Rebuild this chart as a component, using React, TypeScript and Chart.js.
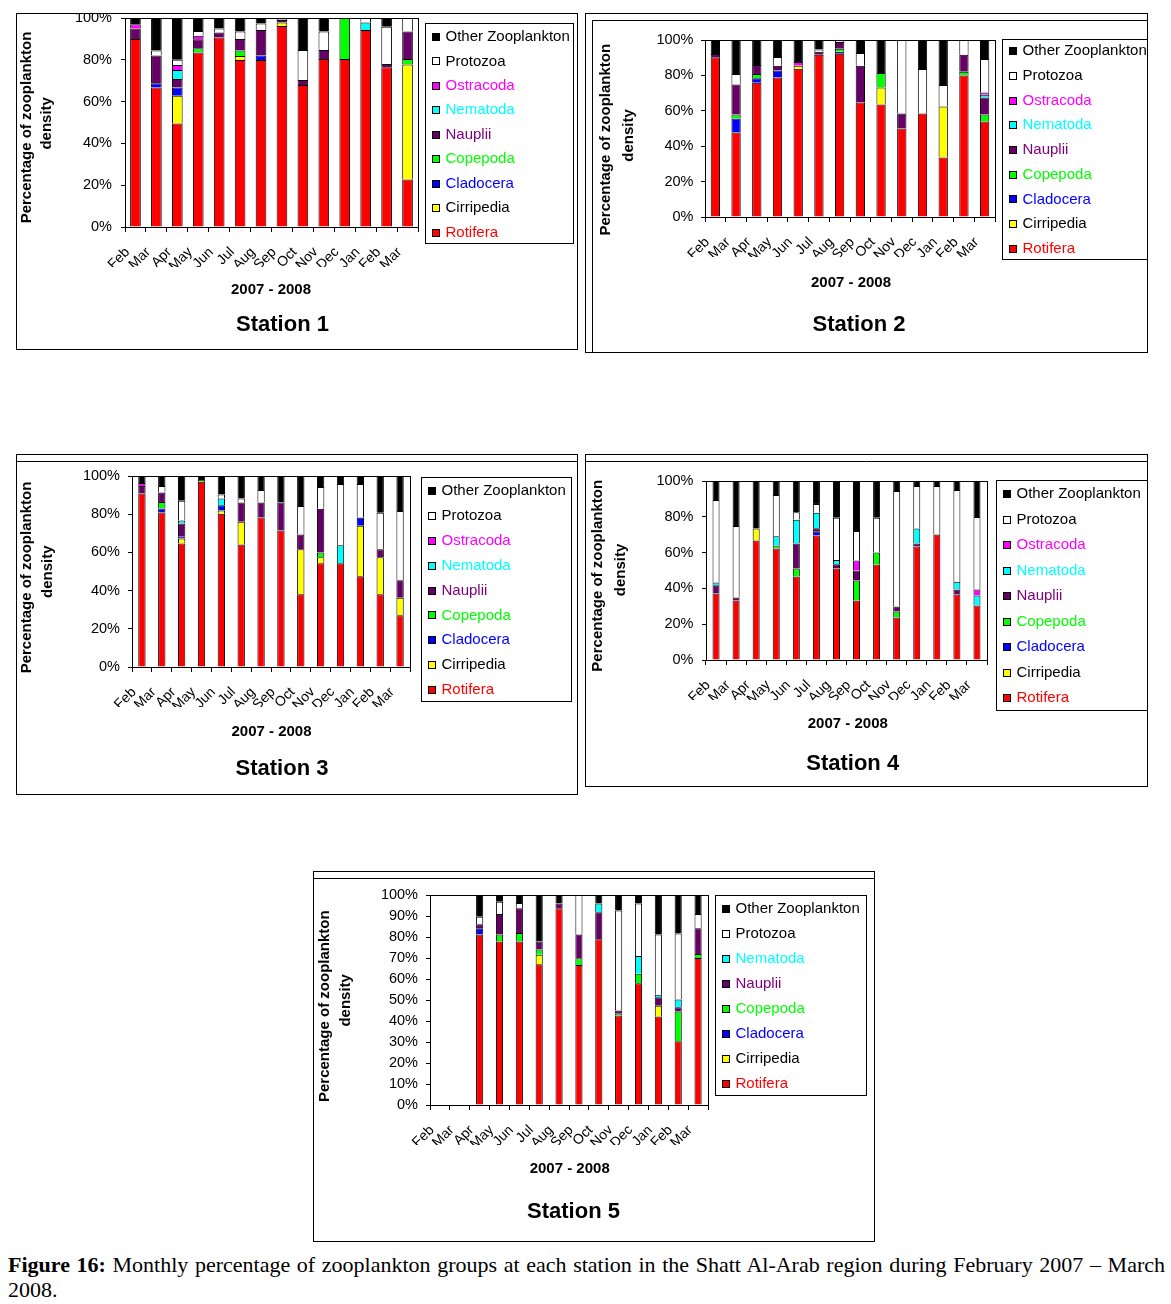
import { useEffect, useRef } from "react";
import { Chart, registerables } from "chart.js";
Chart.register(...registerables);

const months = ["Feb", "Mar", "Apr", "May", "Jun", "Jul", "Aug", "Sep", "Oct", "Nov", "Dec", "Jan", "Feb", "Mar"];
const yTicks20 = [0, 20, 40, 60, 80, 100];
const yTicks10 = [0, 10, 20, 30, 40, 50, 60, 70, 80, 90, 100];

// ---------- Station 1 (%)
const s1Rotifera = [90, 66.8, 49.5, 83.5, 90.7, 79.9, 79.9, 96.2, 67.9, 80.4, 80.4, 94.2, 76.4, 22.7];
const s1Cirripedia = [0, 0, 13.3, 0, 0, 1.9, 0, 1.7, 0, 0, 0, 0, 0, 55.1];
const s1Cladocera = [0, 2, 4, 0, 0, 0, 2.2, 0, 0, 0, 0, 0, 0, 0];
const s1Copepoda = [0, 0, 0, 2, 0, 2.7, 0, 0, 0, 0, 19.6, 0, 0, 2.6];
const s1Nauplii = [5, 13.3, 4, 4.3, 2.4, 5.4, 12.1, 1.1, 2.4, 4.3, 0, 0, 1.6, 13.2];
const s1Nematoda = [0, 0, 4.3, 0, 0, 0, 0, 0, 0, 0, 0, 3.7, 0, 0];
const s1Ostracoda = [2, 0, 2.4, 1.7, 0, 0, 0, 0, 0, 0, 0, 0, 0, 0];
const s1Protozoa = [0, 2.3, 2.5, 2.3, 1.9, 3.6, 3.2, 0.5, 14.4, 8.8, 0, 2.1, 17.8, 6.4];
const s1Other = [3, 15.6, 20, 6.2, 5, 6.5, 2.6, 0.5, 15.3, 6.5, 0, 0, 4.2, 0];

// ---------- Station 2 (%)
const s2Rotifera = [90.2, 47.7, 75.9, 78.8, 83.8, 91.7, 92.3, 64.7, 63.5, 50, 58.5, 33.6, 79.9, 53.9];
const s2Cirripedia = [0, 0, 0, 0, 1.7, 0, 0, 0, 9.6, 0, 0, 28.8, 0, 0];
const s2Cladocera = [0, 7.9, 2.5, 3.9, 0, 0, 1.1, 0, 0, 0, 0, 0, 0, 0];
const s2Copepoda = [0, 2.3, 2.4, 0, 0, 0, 1.7, 0, 8.3, 0, 0, 0, 2.2, 4];
const s2Nauplii = [1.9, 16.9, 5.1, 2.8, 0, 1.7, 3.8, 20.8, 0, 8.5, 0, 0, 9.6, 9.6];
const s2Nematoda = [0, 0, 0, 0, 0, 0, 0, 0, 0, 0, 0, 0, 0, 1.5];
const s2Ostracoda = [0, 0, 0, 0, 2.1, 0, 0, 0, 0, 0, 0, 0, 0, 1.3];
const s2Protozoa = [0, 6, 0, 4.9, 0, 1.3, 0.9, 7.2, 0, 41.5, 25.1, 12.2, 8.3, 19];
const s2Other = [7.9, 19.2, 14.1, 9.6, 12.4, 5.3, 0.2, 7.3, 18.6, 0, 16.4, 25.4, 0, 10.7];

// ---------- Station 3 (%)
const s3Rotifera = [90.8, 80.9, 64.7, 97, 80.3, 64.2, 78.3, 71.5, 38.1, 54.3, 54.3, 47.5, 38.1, 27.1];
const s3Cirripedia = [0, 0, 2.6, 0, 1.6, 11.8, 0, 0, 23.5, 3.1, 0, 26.4, 19.3, 9.2];
const s3Cladocera = [0, 2.1, 0.9, 0, 2.8, 0, 0, 0, 0, 0, 0, 4.4, 0, 0];
const s3Copepoda = [0, 3.4, 0, 0.9, 0, 0, 0, 0, 0, 2.6, 0, 0, 0, 0];
const s3Nauplii = [4, 4.9, 6.9, 0, 0, 10.1, 7.8, 14.6, 7.8, 22.8, 0, 0, 4.2, 9.1];
const s3Nematoda = [0, 0, 1.6, 0, 3.5, 0, 0, 0, 0, 0, 9.4, 0, 0, 0];
const s3Ostracoda = [1.5, 0, 0, 0, 0, 0, 0, 0, 0, 0, 0, 0, 0, 0];
const s3Protozoa = [0, 3.5, 10.3, 0, 2.1, 2.1, 6.6, 0, 14.9, 11.5, 32.1, 17.5, 19.1, 36.3];
const s3Other = [3.7, 5.2, 13, 2.1, 9.7, 11.8, 7.3, 13.9, 15.7, 5.7, 4.2, 4.2, 19.3, 18.3];

// ---------- Station 4 (%)
const s4Rotifera = [37.2, 33.3, 66.7, 62.3, 46.7, 69.5, 51.1, 33.3, 53.3, 23.8, 63.4, 70.1, 36.6, 30.5];
const s4Cirripedia = [0, 0, 6.7, 0, 0, 0, 0, 0, 0, 0, 0, 0, 0, 0];
const s4Cladocera = [0, 0, 0, 0, 0, 2.4, 0, 0, 0, 0, 0, 0, 0, 0];
const s4Copepoda = [0, 0, 0, 1.6, 4.4, 0, 0, 11.1, 6.7, 3.3, 0, 0, 0, 0];
const s4Nauplii = [4.6, 1.6, 0, 0, 14, 1.7, 2.4, 5.6, 0, 2.8, 1.7, 0, 2.8, 0];
const s4Nematoda = [1.5, 0, 0, 5.2, 13.3, 8.7, 2.3, 0, 0, 0, 8.3, 0, 4.3, 5.6];
const s4Ostracoda = [0, 0, 0, 0, 0, 0, 0, 5.6, 0, 0, 0, 0, 0, 3.3];
const s4Protozoa = [46.1, 40, 0, 23.1, 4.1, 4.9, 23.6, 16.5, 19.4, 64.5, 23.8, 27.1, 51.3, 40.5];
const s4Other = [10.6, 25.1, 26.6, 7.8, 17.5, 12.8, 20.6, 27.9, 20.6, 5.6, 2.8, 2.8, 5, 20.1];

// ---------- Station 5 (%) - no samples in Feb and Mar 2007
const s5Rotifera = [null, null, 81.2, 77.9, 77.9, 67, 93.7, 66.7, 78.9, 42.6, 58, 42.1, 30.3, 70];
const s5Cirripedia = [null, null, 0, 0, 0, 4.5, 0, 0, 0, 0, 0, 5.2, 0, 0];
const s5Cladocera = [null, null, 3, 0, 0, 0, 0, 0, 0, 0, 0, 0, 0, 0];
const s5Copepoda = [null, null, 0, 3.3, 4, 2.6, 0, 3.2, 0, 0.9, 4.5, 0, 14.2, 1.9];
const s5Nauplii = [null, null, 1.9, 9.7, 11.8, 3.8, 2.2, 11.3, 12.9, 1.5, 0, 4, 2, 12.3];
const s5Nematoda = [null, null, 0, 0, 0, 0, 0, 0, 4.1, 0, 8.5, 1.2, 3.7, 0];
const s5Protozoa = [null, null, 3.5, 5.9, 2.5, 0, 0, 18.8, 0, 47.6, 24.9, 28.7, 31.5, 6.7];
const s5Other = [null, null, 10.4, 3.2, 3.8, 22.1, 4.1, 0, 4.1, 7.4, 4.1, 18.8, 18.3, 9.1];

type Series = { name: string; values: (number | null)[] };

const station1: Series[] = [
  { name: "Rotifera", values: s1Rotifera },
  { name: "Cirripedia", values: s1Cirripedia },
  { name: "Cladocera", values: s1Cladocera },
  { name: "Copepoda", values: s1Copepoda },
  { name: "Nauplii", values: s1Nauplii },
  { name: "Nematoda", values: s1Nematoda },
  { name: "Ostracoda", values: s1Ostracoda },
  { name: "Protozoa", values: s1Protozoa },
  { name: "Other Zooplankton", values: s1Other },
];
const station2: Series[] = [
  { name: "Rotifera", values: s2Rotifera },
  { name: "Cirripedia", values: s2Cirripedia },
  { name: "Cladocera", values: s2Cladocera },
  { name: "Copepoda", values: s2Copepoda },
  { name: "Nauplii", values: s2Nauplii },
  { name: "Nematoda", values: s2Nematoda },
  { name: "Ostracoda", values: s2Ostracoda },
  { name: "Protozoa", values: s2Protozoa },
  { name: "Other Zooplankton", values: s2Other },
];
const station3: Series[] = [
  { name: "Rotifera", values: s3Rotifera },
  { name: "Cirripedia", values: s3Cirripedia },
  { name: "Cladocera", values: s3Cladocera },
  { name: "Copepoda", values: s3Copepoda },
  { name: "Nauplii", values: s3Nauplii },
  { name: "Nematoda", values: s3Nematoda },
  { name: "Ostracoda", values: s3Ostracoda },
  { name: "Protozoa", values: s3Protozoa },
  { name: "Other Zooplankton", values: s3Other },
];
const station4: Series[] = [
  { name: "Rotifera", values: s4Rotifera },
  { name: "Cirripedia", values: s4Cirripedia },
  { name: "Cladocera", values: s4Cladocera },
  { name: "Copepoda", values: s4Copepoda },
  { name: "Nauplii", values: s4Nauplii },
  { name: "Nematoda", values: s4Nematoda },
  { name: "Ostracoda", values: s4Ostracoda },
  { name: "Protozoa", values: s4Protozoa },
  { name: "Other Zooplankton", values: s4Other },
];
const station5: Series[] = [
  { name: "Rotifera", values: s5Rotifera },
  { name: "Cirripedia", values: s5Cirripedia },
  { name: "Cladocera", values: s5Cladocera },
  { name: "Copepoda", values: s5Copepoda },
  { name: "Nauplii", values: s5Nauplii },
  { name: "Nematoda", values: s5Nematoda },
  { name: "Protozoa", values: s5Protozoa },
  { name: "Other Zooplankton", values: s5Other },
];

const FILL: Record<string, string> = {
  Rotifera: "#FF0000",
  Cirripedia: "#FFFF00",
  Cladocera: "#0000FF",
  Copepoda: "#00FF00",
  Nauplii: "#660066",
  Nematoda: "#00FFFF",
  Ostracoda: "#FF00FF",
  Protozoa: "#FFFFFF",
  "Other Zooplankton": "#000000",
};
const TEXT: Record<string, string> = {
  Rotifera: "#FF0000",
  Cirripedia: "#000000",
  Cladocera: "#0000FF",
  Copepoda: "#00FF00",
  Nauplii: "#800080",
  Nematoda: "#00FFFF",
  Ostracoda: "#FF00FF",
  Protozoa: "#000000",
  "Other Zooplankton": "#000000",
};

const FONT = "'Liberation Sans', Arial, Helvetica, sans-serif";
Chart.defaults.font.family = FONT;

type PanelCfg = {
  id: number;
  name: string;
  box: [number, number, number, number];
  innerTop: boolean;
  innerLeft: boolean;
  plot: [number, number, number, number];
  ticks: number[];
  bar: number;
  legend: [number, number, number, number, number, number];
  yTitle: [number, number, number, number];
  xTitle: [number, number];
  title: [number, number];
  tickPad: number;
  series: Series[];
};

const panels: PanelCfg[] = [
  {
    id: 1, name: "Station 1", box: [16, 13, 562, 337], innerTop: false, innerLeft: false,
    plot: [125, 18, 418, 227], ticks: yTicks20, bar: 0.51,
    legend: [425, 23, 573, 243, 37, 24.45], yTitle: [26.8, 127.5, 47, 123.3],
    xTitle: [271, 290], title: [282.5, 325], tickPad: 9, series: station1,
  },
  {
    id: 2, name: "Station 2", box: [585, 13, 563, 340], innerTop: true, innerLeft: true,
    plot: [705, 40, 995, 217], ticks: yTicks20, bar: 0.45,
    legend: [1002, 39, 1147, 259, 51.3, 24.68], yTitle: [605.8, 139.7, 628.5, 135.5],
    xTitle: [851, 283], title: [859, 324.7], tickPad: 7.5, series: station2,
  },
  {
    id: 3, name: "Station 3", box: [16, 454, 562, 341], innerTop: true, innerLeft: false,
    plot: [132, 476, 410, 667], ticks: yTicks10, bar: 0.37,
    legend: [421, 477, 571, 701, 491, 24.88], yTitle: [27, 577.5, 48, 571.7],
    xTitle: [271.5, 731.7], title: [282, 769.3], tickPad: 8, series: station3,
  },
  {
    id: 4, name: "Station 4", box: [585, 454, 563, 333], innerTop: true, innerLeft: false,
    plot: [706, 481, 987, 660], ticks: yTicks20, bar: 0.35,
    legend: [996, 480, 1147, 709.5, 494.3, 25.5], yTitle: [598, 575.8, 621, 570],
    xTitle: [847.8, 724.3], title: [852.7, 764.3], tickPad: 8.5, series: station4,
  },
  {
    id: 5, name: "Station 5", box: [313, 871, 562, 371], innerTop: true, innerLeft: false,
    plot: [430, 895, 708, 1105], ticks: yTicks10, bar: 0.36,
    legend: [715, 895, 866, 1095, 908.7, 25], yTitle: [324.6, 1006.2, 345.4, 1000.3],
    xTitle: [569.7, 1169.3], title: [573.5, 1212], tickPad: 8, series: station5,
  },
];

function makeDecor(cfg: PanelCfg) {
  return {
    id: "decor" + cfg.id,
    afterDraw(chart: any) {
      const ctx: CanvasRenderingContext2D = chart.ctx;
      const [bl, bt, bw, bh] = cfg.box;
      const X = (x: number) => x - bl;
      const Y = (y: number) => y - bt;
      ctx.save();
      ctx.strokeStyle = "#000";
      ctx.lineWidth = 1;
      // outer frame
      ctx.strokeRect(0.5, 0.5, bw - 1, bh - 1);
      if (cfg.innerTop) {
        ctx.beginPath();
        ctx.moveTo(cfg.innerLeft ? 7 : 0, 7.5);
        ctx.lineTo(bw, 7.5);
        ctx.stroke();
      }
      if (cfg.innerLeft) {
        ctx.beginPath();
        ctx.moveTo(7.5, 7);
        ctx.lineTo(7.5, bh);
        ctx.stroke();
      }
      // plot area frame
      const a = chart.chartArea;
      const l = Math.round(a.left), t = Math.round(a.top), r = Math.round(a.right), b = Math.round(a.bottom);
      ctx.strokeRect(l + 0.5, t + 0.5, r - l, b - t);

      // legend
      const [ll, lt, lr, lb, fy, sp] = cfg.legend;
      ctx.strokeRect(Math.round(X(ll)) + 0.5, Math.round(Y(lt)) + 0.5, Math.round(lr - ll), Math.round(lb - lt));
      ctx.font = `15px ${FONT}`;
      ctx.textBaseline = "middle";
      ctx.textAlign = "left";
      const ds = [...chart.data.datasets].reverse();
      ds.forEach((d: any, i: number) => {
        const y = Y(fy + i * sp);
        const yy = Math.round(y - 4);
        const xx = Math.round(X(ll + 7));
        ctx.fillStyle = d.backgroundColor;
        ctx.fillRect(xx, yy, 8, 8);
        ctx.strokeStyle = "#000";
        ctx.strokeRect(xx + 0.5, yy + 0.5, 7, 7);
        ctx.fillStyle = TEXT[d.label];
        ctx.fillText(d.label, X(ll + 20.5), y);
      });

      // axis titles
      ctx.fillStyle = "#000";
      ctx.textAlign = "center";
      ctx.font = `bold 15px ${FONT}`;
      const [x1, y1, x2, y2] = cfg.yTitle;
      ctx.save();
      ctx.translate(X(x1), Y(y1));
      ctx.rotate(-Math.PI / 2);
      ctx.fillText("Percentage of zooplankton", 0, 0);
      ctx.restore();
      ctx.save();
      ctx.translate(X(x2), Y(y2));
      ctx.rotate(-Math.PI / 2);
      ctx.fillText("density", 0, 0);
      ctx.restore();
      ctx.fillText("2007 - 2008", X(cfg.xTitle[0]), Y(cfg.xTitle[1]));
      ctx.font = `bold 22px ${FONT}`;
      ctx.fillText(cfg.name, X(cfg.title[0]), Y(cfg.title[1]));
      ctx.restore();
    },
  };
}

function Panel({ cfg }: { cfg: PanelCfg }) {
  const ref = useRef<HTMLCanvasElement>(null);
  useEffect(() => {
    const [bl, bt, bw, bh] = cfg.box;
    const [pl, pt, pr, pb] = cfg.plot;
    const xAxisH = 40;
    const chart = new Chart(ref.current as HTMLCanvasElement, {
      type: "bar",
      data: {
        labels: months,
        datasets: cfg.series.map((s) => ({
          label: s.name,
          data: s.values.map((v) => (v ? v : null)),
          backgroundColor: FILL[s.name],
          borderColor: "#000000",
          borderWidth: 1,
          barPercentage: cfg.bar,
          categoryPercentage: 1,
        })),
      },
      options: {
        responsive: false,
        animation: false,
        devicePixelRatio: 1,
        events: [],
        layout: {
          padding: { left: 0, top: pt - bt, right: bl + bw - pr, bottom: bt + bh - pb - xAxisH },
        },
        plugins: {
          legend: { display: false },
          tooltip: { enabled: false },
          title: { display: false },
        },
        scales: {
          x: {
            stacked: true,
            offset: true,
            grid: { display: true, drawOnChartArea: false, offset: true, tickLength: 5, color: "#000" },
            border: { display: true, color: "#000" },
            ticks: {
              color: "#000",
              font: { size: 14 },
              maxRotation: 45,
              minRotation: 45,
              autoSkip: false,
              padding: 12,
              labelOffset: -8,
            },
            afterFit: (s: any) => {
              s.height = xAxisH;
              s.paddingLeft = 0;
              s.paddingRight = 0;
            },
          },
          y: {
            stacked: true,
            min: 0,
            max: 100,
            afterBuildTicks: (s: any) => {
              s.ticks = cfg.ticks.map((v) => ({ value: v }));
            },
            ticks: {
              color: "#000",
              font: { size: 14.5 },
              padding: cfg.tickPad,
              callback: (v: any) => v + "%",
            },
            grid: { display: true, drawOnChartArea: false, tickLength: 4, color: "#000" },
            border: { display: true, color: "#000" },
            afterFit: (s: any) => {
              s.width = pl - bl;
              s.paddingTop = 0;
              s.paddingBottom = 0;
            },
          },
        },
      },
      plugins: [makeDecor(cfg)],
    } as any);
    return () => chart.destroy();
  }, [cfg]);
  const [bl, bt, bw, bh] = cfg.box;
  return (
    <canvas
      ref={ref}
      width={bw}
      height={bh}
      style={{ position: "absolute", left: bl, top: bt, width: bw, height: bh }}
    />
  );
}

export default function App() {
  return (
    <div style={{ position: "absolute", left: 0, top: 0, width: 1171, height: 1304, background: "#fff" }}>
      {panels.map((p) => (
        <Panel key={p.id} cfg={p} />
      ))}
      <div
        style={{
          position: "absolute",
          left: 8,
          top: 1252,
          width: 1157,
          fontFamily: "'Liberation Serif', 'Times New Roman', serif",
          fontSize: 22,
          lineHeight: "25px",
          textAlign: "justify",
          color: "#000",
        }}
      >
        <b>Figure 16:</b> Monthly percentage of zooplankton groups at each station in the Shatt Al-Arab region
        during February 2007 – March 2008.
      </div>
    </div>
  );
}
